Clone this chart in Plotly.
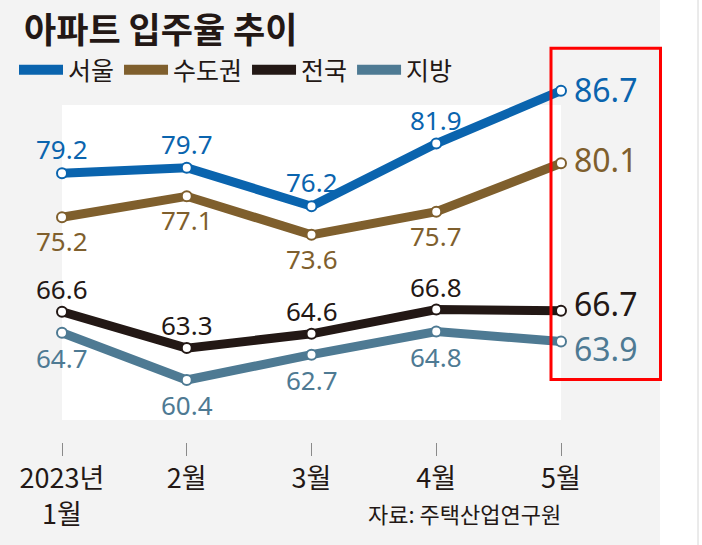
import plotly.graph_objects as go

# ---- data ----
months = ["2023년<br>1월", "2월", "3월", "4월", "5월"]
seoul = [79.2, 79.7, 76.2, 81.9, 86.7]
capital = [75.2, 77.1, 73.6, 75.7, 80.1]
national = [66.6, 63.3, 64.6, 66.8, 66.7]
local = [64.7, 60.4, 62.7, 64.8, 63.9]
series_names = ["서울", "수도권", "전국", "지방"]
title_text = "아파트 입주율 추이"
source_text = "자료: 주택산업연구원"

# ---- style ----
series_values = [seoul, capital, national, local]
colors = ["#0a64ae", "#7f5f2d", "#231815", "#4e7a93"]
label_yshift = [24, -24, 23, -25]
end_yshift = [1, 4, 7, -7]
GRAY = "#f3f3f3"
TEXT = "#231815"
W, H = 702, 545
PL, PW = 0, 660          # plot area left / width in px
PT, PH = 0, 442          # plot area top / height in px
X0PX, XSTEP = 62, 124.75
Y_TOP_V, PX_PER_UNIT = 86.7, 11.0
Y_TOP_PX = 90.7

def py(px):
    return 1 - px / PH

def px_to_v(px):
    return Y_TOP_V - (px - Y_TOP_PX) / PX_PER_UNIT

xs = list(range(len(months)))
fig = go.Figure()

for name, vals, col in zip(series_names, series_values, colors):
    fig.add_trace(go.Scatter(
        x=xs, y=vals, mode="lines+markers", showlegend=False,
        line=dict(color=col, width=9),
        marker=dict(size=10, color="white", line=dict(color=col, width=2)),
        cliponaxis=False, hoverinfo="skip",
    ))
    fig.add_trace(go.Scatter(
        x=[None], y=[None], mode="lines", name=name,
        line=dict(color=col, width=10),
    ))

annotations = []
for vals, col, ys, es in zip(series_values, colors, label_yshift, end_yshift):
    for i, v in enumerate(vals):
        last = i == len(vals) - 1
        annotations.append(dict(
            x=xs[i], y=v, xref="x", yref="y", text=f"{v:.1f}", showarrow=False,
            xanchor="left" if last else "center", yanchor="middle", borderpad=0,
            xshift=12 if last else 0, yshift=es if last else ys,
            font=dict(family="Noto Sans", size=32 if last else 26, color=col),
        ))

annotations.append(dict(
    x=22 / PW, y=py(27), xref="paper", yref="paper", text=title_text,
    showarrow=False, xanchor="left", yanchor="middle",
    font=dict(family="Noto Sans CJK KR", size=35, color=TEXT, weight="bold"),
))
annotations.append(dict(
    x=366 / PW, y=py(513), xref="paper", yref="paper", text=source_text,
    showarrow=False, xanchor="left", yanchor="middle",
    font=dict(family="Liberation Sans Narrow, Noto Sans CJK KR", size=22, color=TEXT),
))

shapes = [
    # white plot panel
    dict(type="rect", xref="x", yref="y", x0=xs[0], x1=xs[-1],
         y0=px_to_v(420), y1=px_to_v(105), fillcolor="white",
         line=dict(width=0), layer="below"),
    # white strip on the right
    dict(type="rect", xref="paper", yref="paper", x0=1, x1=W / PW + 0.05,
         y0=-0.5, y1=1.2, fillcolor="white", line=dict(width=0), layer="below"),
    # thin gray rule at right
    dict(type="line", xref="paper", yref="paper", x0=698 / PW, x1=698 / PW,
         y0=-0.5, y1=1.2, line=dict(color="#d6d6d6", width=1)),
    # red highlight box
    dict(type="rect", xref="paper", yref="paper", x0=551 / PW, x1=660.5 / PW,
         y0=py(379.5), y1=py(48.3), line=dict(color="#ff0000", width=3),
         fillcolor="rgba(0,0,0,0)", layer="above"),
]

fig.update_layout(
    width=W, height=H,
    margin=dict(l=PL, r=W - PL - PW, t=PT, b=H - PT - PH, autoexpand=False),
    paper_bgcolor=GRAY, plot_bgcolor="rgba(0,0,0,0)",
    showlegend=True,
    legend=dict(orientation="h", x=14 / PW, y=py(70), xanchor="left", yanchor="middle",
                bgcolor="rgba(0,0,0,0)", borderwidth=0, itemwidth=44,
                font=dict(family="Noto Sans CJK KR", size=25, color=TEXT)),
    xaxis=dict(range=[-X0PX / XSTEP, (PW - X0PX) / XSTEP], tickvals=xs, ticktext=months,
               ticks="outside", ticklen=13, tickwidth=1, tickcolor="#8a8a8a",
               showgrid=False, zeroline=False, showline=False, fixedrange=True,
               tickfont=dict(family="Liberation Sans Narrow, Noto Sans CJK KR", size=27, color=TEXT)),
    yaxis=dict(range=[px_to_v(PH), px_to_v(0)], visible=False, fixedrange=True),
    annotations=annotations, shapes=shapes,
)

fig.write_html("out.html")
